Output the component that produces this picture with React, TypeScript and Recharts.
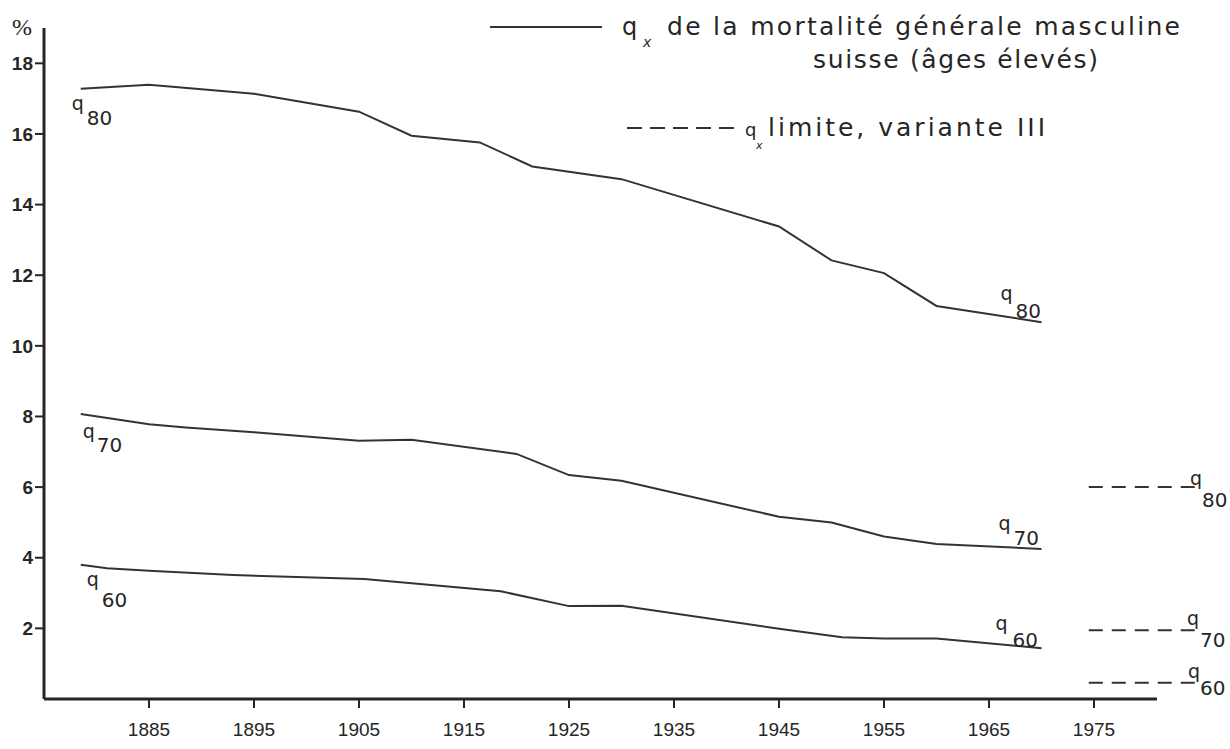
import React from 'react'
import { LineChart, Line, XAxis, YAxis, ReferenceLine, ReferenceDot } from 'recharts'

// q_x de la mortalité générale masculine suisse, en %
const Q80_YEARS = [1878.5, 1885, 1895, 1905, 1910, 1916.5, 1921.5, 1930, 1945, 1950, 1955, 1960, 1970]
const Q80_VALUES = [17.28, 17.39, 17.14, 16.63, 15.95, 15.76, 15.08, 14.72, 13.38, 12.42, 12.06, 11.13, 10.67]

const Q70_YEARS = [1878.5, 1885, 1888.5, 1895, 1905, 1910, 1920, 1925, 1930, 1945, 1950, 1955, 1960, 1970]
const Q70_VALUES = [8.07, 7.78, 7.69, 7.55, 7.31, 7.34, 6.94, 6.34, 6.18, 5.16, 5.0, 4.6, 4.39, 4.25]

const Q60_YEARS = [1878.5, 1881, 1885, 1893, 1905.5, 1918.5, 1925, 1930, 1945, 1951, 1955, 1960, 1970]
const Q60_VALUES = [3.8, 3.7, 3.63, 3.51, 3.4, 3.05, 2.63, 2.64, 1.99, 1.75, 1.71, 1.71, 1.44]

// q_x limite, variante III (q80, q70, q60)
const LIMIT_SPAN = [1974.5, 1985.2]
const LIMIT_VALUES = [6.0, 1.95, 0.46]

const X_TICKS = [1885, 1895, 1905, 1915, 1925, 1935, 1945, 1955, 1965, 1975]
const Y_TICKS = [2, 4, 6, 8, 10, 12, 14, 16, 18]

const INK = '#262626'
const LETTER = '"DejaVu Sans", "Noto Sans", sans-serif'
const DIGITS = '"Liberation Sans", Arial, sans-serif'

const zip = (years: number[], vals: number[]) => years.map((year, i) => ({ year, v: vals[i] }))

const q80 = zip(Q80_YEARS, Q80_VALUES)
const q70 = zip(Q70_YEARS, Q70_VALUES)
const q60 = zip(Q60_YEARS, Q60_VALUES)
const limits = LIMIT_VALUES.map((v) => LIMIT_SPAN.map((year) => ({ year, v })))

// "q" with an age subscript, placed relative to an anchor point
function qMark(sub: string, dq: [number, number], ds: [number, number]) {
  return (props: any) => {
    const vb = props.viewBox ?? { x: 0, y: 0, width: 0, height: 0 }
    const cx = vb.x + (vb.width ?? 0) / 2
    const cy = vb.y + (vb.height ?? 0) / 2
    const qx = cx + dq[0]
    const qy = cy + dq[1]
    return (
      <g fill={INK} fontFamily={LETTER}>
        <text x={qx} y={qy} fontSize={19}>q</text>
        <text x={qx + ds[0]} y={qy + ds[1]} fontSize={20}>{sub}</text>
      </g>
    )
  }
}

const first = (d: { year: number; v: number }[]) => d[0]
const last = (d: { year: number; v: number }[]) => d[d.length - 1]

export default function App() {
  return (
    <div style={{ position: 'absolute', left: 0, top: 0, width: 1230, height: 749, background: '#fff' }}>
      <LineChart width={1230} height={749} margin={{ top: 28, right: 20.5, bottom: 0, left: 0 }}>
        <XAxis
          type="number"
          dataKey="year"
          domain={[1875, 1986]}
          ticks={X_TICKS}
          interval={0}
          height={50}
          allowDataOverflow
          axisLine={false}
          tickLine={{ stroke: INK, strokeWidth: 2 }}
          tickSize={9}
          tickMargin={15}
          tick={{ fontSize: 19, fill: INK, fontFamily: DIGITS }}
        />
        <YAxis
          type="number"
          domain={[0, 19]}
          ticks={Y_TICKS}
          interval={0}
          width={44}
          allowDataOverflow
          axisLine={{ stroke: INK, strokeWidth: 3 }}
          tickLine={{ stroke: INK, strokeWidth: 2 }}
          tickSize={9}
          tickMargin={2}
          tick={{ fontSize: 19, fontWeight: 700, fill: INK, fontFamily: DIGITS }}
        />
        <ReferenceLine segment={[{ x: 1875, y: 0 }, { x: 1981, y: 0 }]} stroke={INK} strokeWidth={3} />

        <Line data={q80} dataKey="v" type="linear" stroke="#333" strokeWidth={2} dot={false} isAnimationActive={false} />
        <Line data={q70} dataKey="v" type="linear" stroke="#333" strokeWidth={2} dot={false} isAnimationActive={false} />
        <Line data={q60} dataKey="v" type="linear" stroke="#333" strokeWidth={2} dot={false} isAnimationActive={false} />
        {limits.map((d, i) => (
          <Line key={i} data={d} dataKey="v" type="linear" stroke="#333" strokeWidth={2}
            strokeDasharray="14 9" dot={false} isAnimationActive={false} />
        ))}

        <ReferenceDot x={first(q80).year} y={first(q80).v} r={0} stroke="none" fill="none" label={qMark('80', [-9, 21], [15, 15])} />
        <ReferenceDot x={first(q70).year} y={first(q70).v} r={0} stroke="none" fill="none" label={qMark('70', [2, 24], [14, 14])} />
        <ReferenceDot x={first(q60).year} y={first(q60).v} r={0} stroke="none" fill="none" label={qMark('60', [6, 21], [15, 21])} />

        <ReferenceDot x={last(q80).year} y={last(q80).v} r={0} stroke="none" fill="none" label={qMark('80', [-41, -22], [15, 18])} />
        <ReferenceDot x={last(q70).year} y={last(q70).v} r={0} stroke="none" fill="none" label={qMark('70', [-43, -19], [15, 15])} />
        <ReferenceDot x={last(q60).year} y={last(q60).v} r={0} stroke="none" fill="none" label={qMark('60', [-46, -18], [17, 17])} />

        <ReferenceDot x={LIMIT_SPAN[1]} y={LIMIT_VALUES[0]} r={0} stroke="none" fill="none" label={qMark('80', [-11, -2], [12, 22])} />
        <ReferenceDot x={LIMIT_SPAN[1]} y={LIMIT_VALUES[1]} r={0} stroke="none" fill="none" label={qMark('70', [-14, -5], [13, 22])} />
        <ReferenceDot x={LIMIT_SPAN[1]} y={LIMIT_VALUES[2]} r={0} stroke="none" fill="none" label={qMark('60', [-13, -5], [12, 17])} />
      </LineChart>

      {/* unit and legend, lettered on top of the chart */}
      <svg width={1230} height={749} style={{ position: 'absolute', left: 0, top: 0, pointerEvents: 'none' }}>
        <text x={12} y={35} fontSize={24} fill={INK} fontFamily='"Liberation Serif", serif'>%</text>

        <line x1={490} x2={602} y1={27} y2={27} stroke="#333" strokeWidth={2} />
        <g fill={INK} fontFamily={LETTER}>
          <text x={622} y={35} fontSize={24}>q</text>
          <text x={643} y={47} fontSize={14} fontStyle="italic">x</text>
          <text x={667} y={35} fontSize={25} textLength={513} lengthAdjust="spacing">de la mortalité générale masculine</text>
          <text x={813} y={68} fontSize={25} textLength={285} lengthAdjust="spacing">suisse (âges élevés)</text>
        </g>

        <line x1={627} x2={741} y1={128} y2={128} stroke="#333" strokeWidth={2} strokeDasharray="15 8" />
        <g fill={INK} fontFamily={LETTER}>
          <text x={745} y={136} fontSize={18}>q</text>
          <text x={756} y={149} fontSize={11} fontStyle="italic">x</text>
          <text x={768} y={136} fontSize={25} textLength={277} lengthAdjust="spacing">limite, variante III</text>
        </g>
      </svg>
    </div>
  )
}
